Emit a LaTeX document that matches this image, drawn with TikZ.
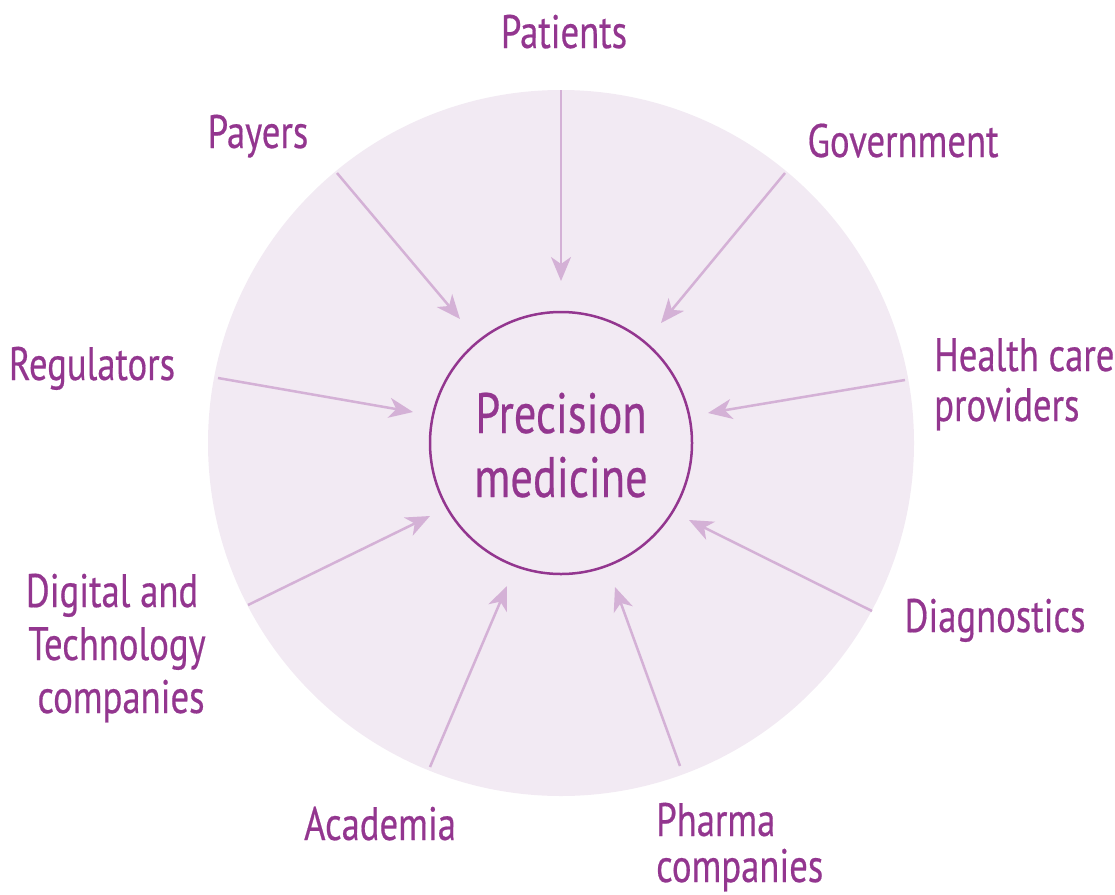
\documentclass[tikz,border=0pt]{standalone}
\usepackage{fontspec}
\setmainfont{PT Sans}[FakeStretch=0.78, FakeBold=0.4]
\usetikzlibrary{arrows.meta}
\definecolor{plum}{HTML}{93368F}
\definecolor{lilac}{HTML}{D4B1D6}
\definecolor{haze}{HTML}{F2EAF3}
\tikzset{
  lbl/.style={text=plum, font=\fontsize{47}{50}\selectfont, inner sep=0pt},
  feed/.style={draw=lilac, line width=2.5pt,
    -{Stealth[length=24pt, width=20pt, inset=7pt]}},
}
\begin{document}
\begin{tikzpicture}[x=1pt, y=-1pt]
  \useasboundingbox (0,0) rectangle (1115,894);
  % stakeholder ring and core
  \node (ring) [circle, fill=haze, minimum size=706pt, inner sep=0pt] at (561,443) {};
  \node (core) [circle, draw=plum, line width=2.5pt, minimum size=262pt, inner sep=0pt] at (561,443) {};
  \node (core1) [text=plum, font=\fontsize{57}{64}\selectfont, anchor=base, inner sep=0pt] at (561,433) {Precision};
  \node (core2) [text=plum, font=\fontsize{57}{64}\selectfont, anchor=base, inner sep=0pt] at (561,497) {medicine};

  % labels (multi-line labels are placed by the baseline of their last line)
  \node (pat) [lbl, anchor=base] at (564,48) {Patients};
  \node (pay) [lbl, anchor=base] at (258,148) {Payers};
  \node (gov) [lbl, anchor=base] at (903,157) {Government};
  \node (hc) [lbl, anchor=base west, align=left] at (934,421) {Health care\\providers};
  \node (reg) [lbl, anchor=base] at (92,380) {Regulators};
  \node (dia) [lbl, anchor=base] at (995,632) {Diagnostics};
  \node (dg) [lbl, anchor=base, align=center, font=\fontsize{47}{53}\selectfont] at (117,713)
    {\hspace*{-10pt}Digital and\\Technology\\\hspace*{8pt}companies};
  \node (aca) [lbl, anchor=base] at (380,840) {Academia};
  \node (ph) [lbl, anchor=base west, align=left, font=\fontsize{47}{46}\selectfont] at (656,882)
    {Pharma\\companies};

  % connector ends
  \coordinate (pat-t) at (561,90);   \coordinate (pat-h) at (561,281);
  \coordinate (gov-t) at (785,173);  \coordinate (gov-h) at (661,323);
  \coordinate (hc-t)  at (905,380);  \coordinate (hc-h)  at (708,413);
  \coordinate (dia-t) at (872,611);  \coordinate (dia-h) at (689,520);
  \coordinate (ph-t)  at (680,766);  \coordinate (ph-h)  at (615,587);
  \coordinate (aca-t) at (430,767);  \coordinate (aca-h) at (507,586);
  \coordinate (dg-t)  at (248,605);  \coordinate (dg-h)  at (430,516);
  \coordinate (reg-t) at (218,378);  \coordinate (reg-h) at (413,412);
  \coordinate (pay-t) at (337,173);  \coordinate (pay-h) at (460,319);

  \foreach \s in {pat,gov,hc,dia,ph,aca,dg,reg,pay}
    \draw [feed] (\s-t) -- (\s-h);
\end{tikzpicture}
\end{document}
